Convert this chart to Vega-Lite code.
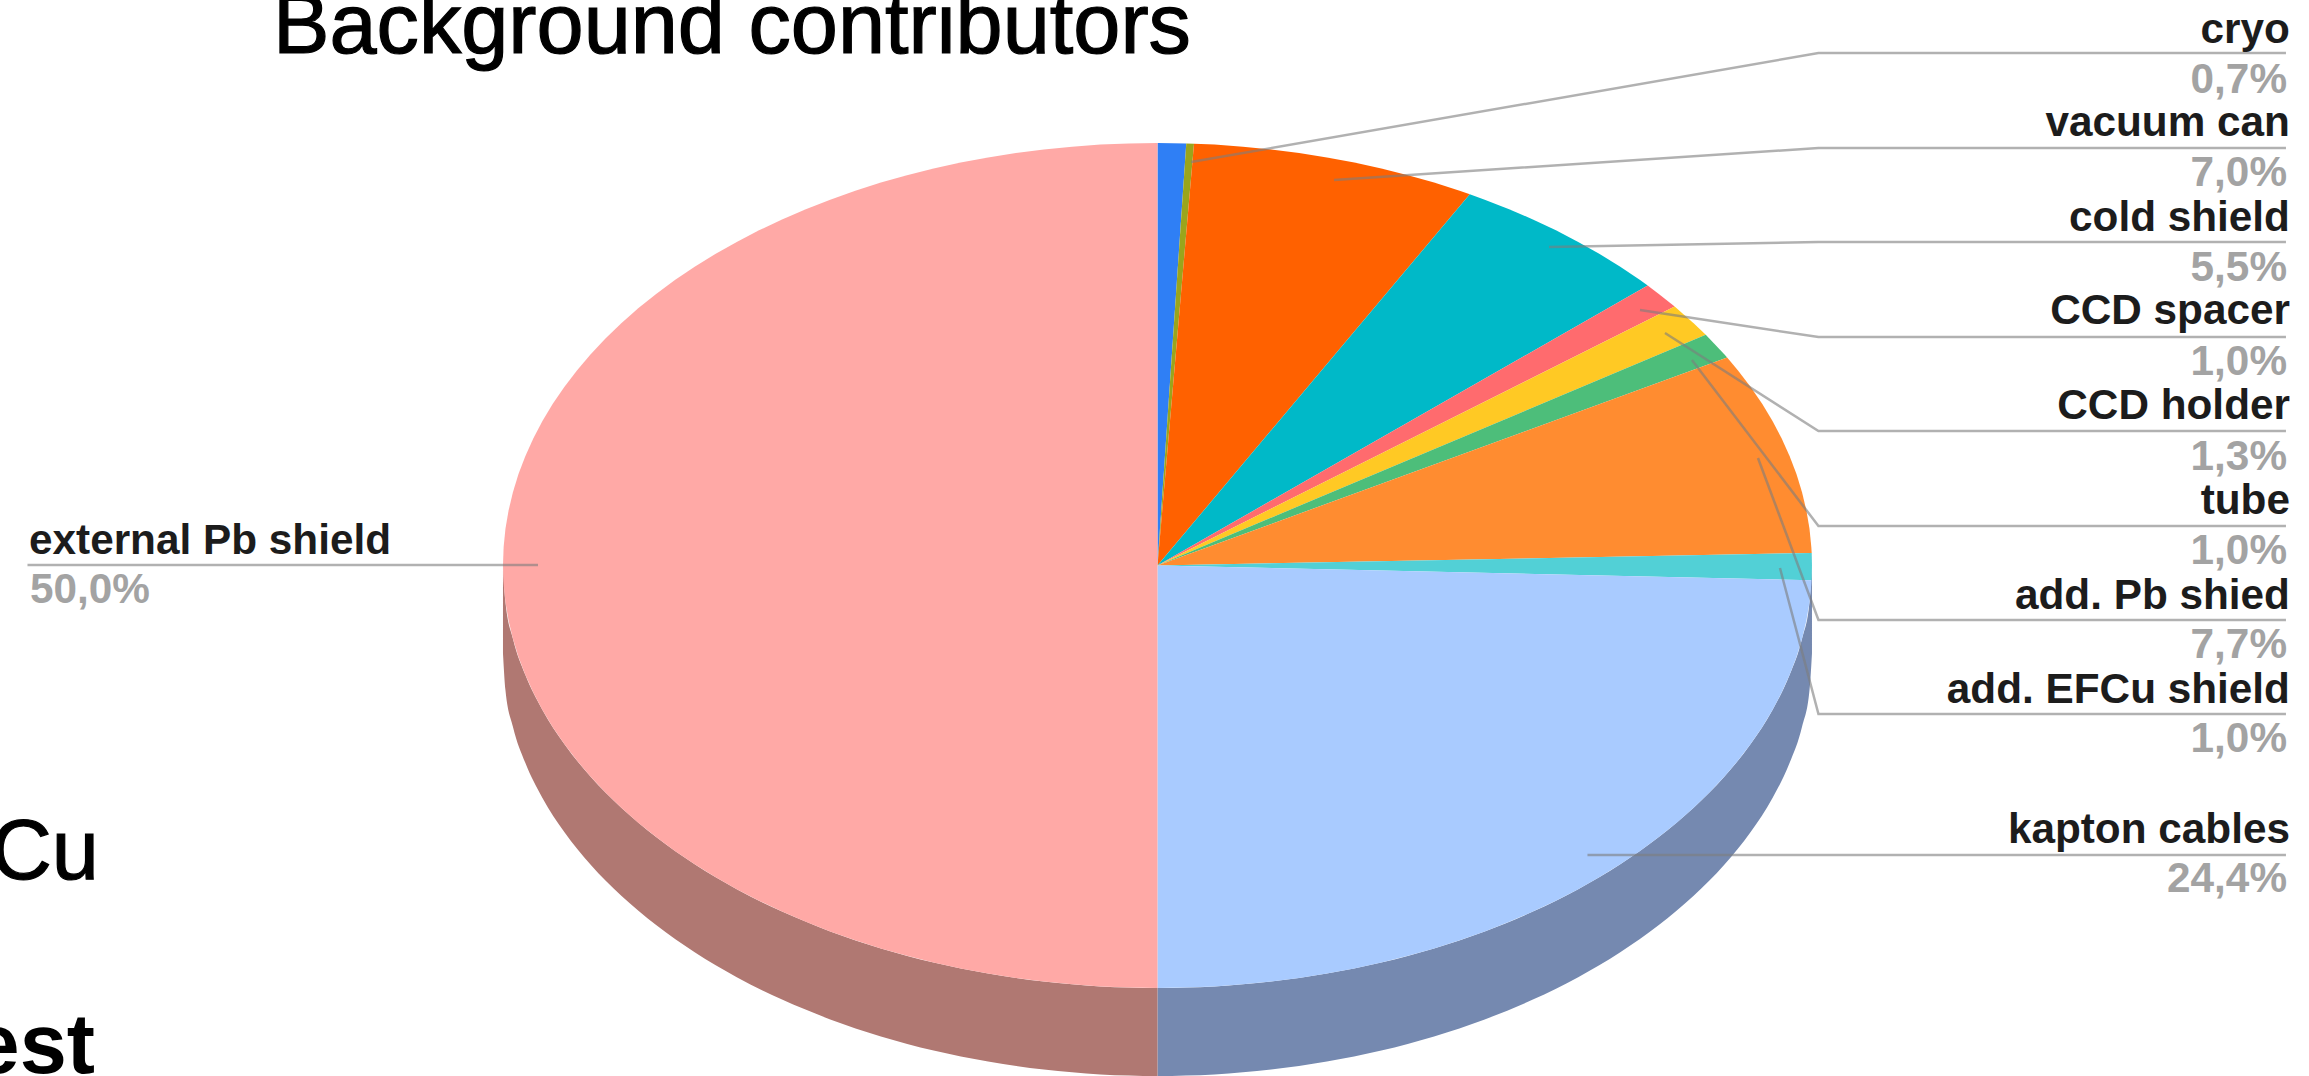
{
  "$schema": "https://vega.github.io/schema/vega-lite/v6.json",
  "width": 2309,
  "height": 1076,
  "padding": 0,
  "autosize": {"type": "none"},
  "background": "#ffffff",
  "view": {"stroke": null},
  "datasets": {
    "side": [
      {"part":"kapton cables side","x":1,"top":0,"bottom":-0.2083},
      {"part":"kapton cables side","x":0.9962,"top":-0.0872,"bottom":-0.2955},
      {"part":"kapton cables side","x":0.9848,"top":-0.1736,"bottom":-0.3819},
      {"part":"kapton cables side","x":0.9659,"top":-0.2588,"bottom":-0.4671},
      {"part":"kapton cables side","x":0.9397,"top":-0.342,"bottom":-0.5503},
      {"part":"kapton cables side","x":0.9063,"top":-0.4226,"bottom":-0.6309},
      {"part":"kapton cables side","x":0.866,"top":-0.5,"bottom":-0.7083},
      {"part":"kapton cables side","x":0.8192,"top":-0.5736,"bottom":-0.7819},
      {"part":"kapton cables side","x":0.766,"top":-0.6428,"bottom":-0.8511},
      {"part":"kapton cables side","x":0.7071,"top":-0.7071,"bottom":-0.9154},
      {"part":"kapton cables side","x":0.6428,"top":-0.766,"bottom":-0.9743},
      {"part":"kapton cables side","x":0.5736,"top":-0.8192,"bottom":-1.0275},
      {"part":"kapton cables side","x":0.5,"top":-0.866,"bottom":-1.0743},
      {"part":"kapton cables side","x":0.4226,"top":-0.9063,"bottom":-1.1146},
      {"part":"kapton cables side","x":0.342,"top":-0.9397,"bottom":-1.148},
      {"part":"kapton cables side","x":0.2588,"top":-0.9659,"bottom":-1.1742},
      {"part":"kapton cables side","x":0.1736,"top":-0.9848,"bottom":-1.1931},
      {"part":"kapton cables side","x":0.0872,"top":-0.9962,"bottom":-1.2045},
      {"part":"kapton cables side","x":0,"top":-1,"bottom":-1.2083},
      {"part":"external Pb shield side","x":0,"top":-1,"bottom":-1.2083},
      {"part":"external Pb shield side","x":-0.0872,"top":-0.9962,"bottom":-1.2045},
      {"part":"external Pb shield side","x":-0.1736,"top":-0.9848,"bottom":-1.1931},
      {"part":"external Pb shield side","x":-0.2588,"top":-0.9659,"bottom":-1.1742},
      {"part":"external Pb shield side","x":-0.342,"top":-0.9397,"bottom":-1.148},
      {"part":"external Pb shield side","x":-0.4226,"top":-0.9063,"bottom":-1.1146},
      {"part":"external Pb shield side","x":-0.5,"top":-0.866,"bottom":-1.0743},
      {"part":"external Pb shield side","x":-0.5736,"top":-0.8192,"bottom":-1.0275},
      {"part":"external Pb shield side","x":-0.6428,"top":-0.766,"bottom":-0.9743},
      {"part":"external Pb shield side","x":-0.7071,"top":-0.7071,"bottom":-0.9154},
      {"part":"external Pb shield side","x":-0.766,"top":-0.6428,"bottom":-0.8511},
      {"part":"external Pb shield side","x":-0.8192,"top":-0.5736,"bottom":-0.7819},
      {"part":"external Pb shield side","x":-0.866,"top":-0.5,"bottom":-0.7083},
      {"part":"external Pb shield side","x":-0.9063,"top":-0.4226,"bottom":-0.6309},
      {"part":"external Pb shield side","x":-0.9397,"top":-0.342,"bottom":-0.5503},
      {"part":"external Pb shield side","x":-0.9659,"top":-0.2588,"bottom":-0.4671},
      {"part":"external Pb shield side","x":-0.9848,"top":-0.1736,"bottom":-0.3819},
      {"part":"external Pb shield side","x":-0.9962,"top":-0.0872,"bottom":-0.2955},
      {"part":"external Pb shield side","x":-1,"top":0,"bottom":-0.2083}
    ],
    "wedges": [
      {"part":"cryo","deg":-1,"x":0,"y":0},
      {"part":"cryo","deg":0,"x":0,"y":1},
      {"part":"cryo","deg":2.52,"x":0.044,"y":0.999},
      {"part":"unlabelled","deg":-1,"x":0,"y":0},
      {"part":"unlabelled","deg":2.52,"x":0.044,"y":0.999},
      {"part":"unlabelled","deg":3.2,"x":0.0558,"y":0.9984},
      {"part":"vacuum can","deg":-1,"x":0,"y":0},
      {"part":"vacuum can","deg":3.2,"x":0.0558,"y":0.9984},
      {"part":"vacuum can","deg":5,"x":0.0872,"y":0.9962},
      {"part":"vacuum can","deg":7.5,"x":0.1305,"y":0.9914},
      {"part":"vacuum can","deg":10,"x":0.1736,"y":0.9848},
      {"part":"vacuum can","deg":12.5,"x":0.2164,"y":0.9763},
      {"part":"vacuum can","deg":15,"x":0.2588,"y":0.9659},
      {"part":"vacuum can","deg":17.5,"x":0.3007,"y":0.9537},
      {"part":"vacuum can","deg":20,"x":0.342,"y":0.9397},
      {"part":"vacuum can","deg":22.5,"x":0.3827,"y":0.9239},
      {"part":"vacuum can","deg":25,"x":0.4226,"y":0.9063},
      {"part":"vacuum can","deg":27.5,"x":0.4617,"y":0.887},
      {"part":"vacuum can","deg":28.5,"x":0.4772,"y":0.8788},
      {"part":"cold shield","deg":-1,"x":0,"y":0},
      {"part":"cold shield","deg":28.5,"x":0.4772,"y":0.8788},
      {"part":"cold shield","deg":30,"x":0.5,"y":0.866},
      {"part":"cold shield","deg":32.5,"x":0.5373,"y":0.8434},
      {"part":"cold shield","deg":35,"x":0.5736,"y":0.8192},
      {"part":"cold shield","deg":37.5,"x":0.6088,"y":0.7934},
      {"part":"cold shield","deg":40,"x":0.6428,"y":0.766},
      {"part":"cold shield","deg":42.5,"x":0.6756,"y":0.7373},
      {"part":"cold shield","deg":45,"x":0.7071,"y":0.7071},
      {"part":"cold shield","deg":47.5,"x":0.7373,"y":0.6756},
      {"part":"cold shield","deg":48.5,"x":0.749,"y":0.6626},
      {"part":"CCD spacer","deg":-1,"x":0,"y":0},
      {"part":"CCD spacer","deg":48.5,"x":0.749,"y":0.6626},
      {"part":"CCD spacer","deg":50,"x":0.766,"y":0.6428},
      {"part":"CCD spacer","deg":52.2,"x":0.7902,"y":0.6129},
      {"part":"CCD holder","deg":-1,"x":0,"y":0},
      {"part":"CCD holder","deg":52.2,"x":0.7902,"y":0.6129},
      {"part":"CCD holder","deg":55,"x":0.8192,"y":0.5736},
      {"part":"CCD holder","deg":56.9,"x":0.8377,"y":0.5461},
      {"part":"tube","deg":-1,"x":0,"y":0},
      {"part":"tube","deg":56.9,"x":0.8377,"y":0.5461},
      {"part":"tube","deg":60,"x":0.866,"y":0.5},
      {"part":"tube","deg":60.5,"x":0.8704,"y":0.4924},
      {"part":"add. Pb shied","deg":-1,"x":0,"y":0},
      {"part":"add. Pb shied","deg":60.5,"x":0.8704,"y":0.4924},
      {"part":"add. Pb shied","deg":62.5,"x":0.887,"y":0.4617},
      {"part":"add. Pb shied","deg":65,"x":0.9063,"y":0.4226},
      {"part":"add. Pb shied","deg":67.5,"x":0.9239,"y":0.3827},
      {"part":"add. Pb shied","deg":70,"x":0.9397,"y":0.342},
      {"part":"add. Pb shied","deg":72.5,"x":0.9537,"y":0.3007},
      {"part":"add. Pb shied","deg":75,"x":0.9659,"y":0.2588},
      {"part":"add. Pb shied","deg":77.5,"x":0.9763,"y":0.2164},
      {"part":"add. Pb shied","deg":80,"x":0.9848,"y":0.1736},
      {"part":"add. Pb shied","deg":82.5,"x":0.9914,"y":0.1305},
      {"part":"add. Pb shied","deg":85,"x":0.9962,"y":0.0872},
      {"part":"add. Pb shied","deg":87.5,"x":0.999,"y":0.0436},
      {"part":"add. Pb shied","deg":88.3,"x":0.9996,"y":0.0297},
      {"part":"add. EFCu shield","deg":-1,"x":0,"y":0},
      {"part":"add. EFCu shield","deg":88.3,"x":0.9996,"y":0.0297},
      {"part":"add. EFCu shield","deg":90,"x":1,"y":0},
      {"part":"add. EFCu shield","deg":92,"x":0.9994,"y":-0.0349},
      {"part":"kapton cables","deg":-1,"x":0,"y":0},
      {"part":"kapton cables","deg":92,"x":0.9994,"y":-0.0349},
      {"part":"kapton cables","deg":92.5,"x":0.999,"y":-0.0436},
      {"part":"kapton cables","deg":95,"x":0.9962,"y":-0.0872},
      {"part":"kapton cables","deg":97.5,"x":0.9914,"y":-0.1305},
      {"part":"kapton cables","deg":100,"x":0.9848,"y":-0.1736},
      {"part":"kapton cables","deg":102.5,"x":0.9763,"y":-0.2164},
      {"part":"kapton cables","deg":105,"x":0.9659,"y":-0.2588},
      {"part":"kapton cables","deg":107.5,"x":0.9537,"y":-0.3007},
      {"part":"kapton cables","deg":110,"x":0.9397,"y":-0.342},
      {"part":"kapton cables","deg":112.5,"x":0.9239,"y":-0.3827},
      {"part":"kapton cables","deg":115,"x":0.9063,"y":-0.4226},
      {"part":"kapton cables","deg":117.5,"x":0.887,"y":-0.4617},
      {"part":"kapton cables","deg":120,"x":0.866,"y":-0.5},
      {"part":"kapton cables","deg":122.5,"x":0.8434,"y":-0.5373},
      {"part":"kapton cables","deg":125,"x":0.8192,"y":-0.5736},
      {"part":"kapton cables","deg":127.5,"x":0.7934,"y":-0.6088},
      {"part":"kapton cables","deg":130,"x":0.766,"y":-0.6428},
      {"part":"kapton cables","deg":132.5,"x":0.7373,"y":-0.6756},
      {"part":"kapton cables","deg":135,"x":0.7071,"y":-0.7071},
      {"part":"kapton cables","deg":137.5,"x":0.6756,"y":-0.7373},
      {"part":"kapton cables","deg":140,"x":0.6428,"y":-0.766},
      {"part":"kapton cables","deg":142.5,"x":0.6088,"y":-0.7934},
      {"part":"kapton cables","deg":145,"x":0.5736,"y":-0.8192},
      {"part":"kapton cables","deg":147.5,"x":0.5373,"y":-0.8434},
      {"part":"kapton cables","deg":150,"x":0.5,"y":-0.866},
      {"part":"kapton cables","deg":152.5,"x":0.4617,"y":-0.887},
      {"part":"kapton cables","deg":155,"x":0.4226,"y":-0.9063},
      {"part":"kapton cables","deg":157.5,"x":0.3827,"y":-0.9239},
      {"part":"kapton cables","deg":160,"x":0.342,"y":-0.9397},
      {"part":"kapton cables","deg":162.5,"x":0.3007,"y":-0.9537},
      {"part":"kapton cables","deg":165,"x":0.2588,"y":-0.9659},
      {"part":"kapton cables","deg":167.5,"x":0.2164,"y":-0.9763},
      {"part":"kapton cables","deg":170,"x":0.1736,"y":-0.9848},
      {"part":"kapton cables","deg":172.5,"x":0.1305,"y":-0.9914},
      {"part":"kapton cables","deg":175,"x":0.0872,"y":-0.9962},
      {"part":"kapton cables","deg":177.5,"x":0.0436,"y":-0.999},
      {"part":"kapton cables","deg":180,"x":0,"y":-1},
      {"part":"external Pb shield","deg":-1,"x":0,"y":0},
      {"part":"external Pb shield","deg":180,"x":0,"y":-1},
      {"part":"external Pb shield","deg":182.5,"x":-0.0436,"y":-0.999},
      {"part":"external Pb shield","deg":185,"x":-0.0872,"y":-0.9962},
      {"part":"external Pb shield","deg":187.5,"x":-0.1305,"y":-0.9914},
      {"part":"external Pb shield","deg":190,"x":-0.1736,"y":-0.9848},
      {"part":"external Pb shield","deg":192.5,"x":-0.2164,"y":-0.9763},
      {"part":"external Pb shield","deg":195,"x":-0.2588,"y":-0.9659},
      {"part":"external Pb shield","deg":197.5,"x":-0.3007,"y":-0.9537},
      {"part":"external Pb shield","deg":200,"x":-0.342,"y":-0.9397},
      {"part":"external Pb shield","deg":202.5,"x":-0.3827,"y":-0.9239},
      {"part":"external Pb shield","deg":205,"x":-0.4226,"y":-0.9063},
      {"part":"external Pb shield","deg":207.5,"x":-0.4617,"y":-0.887},
      {"part":"external Pb shield","deg":210,"x":-0.5,"y":-0.866},
      {"part":"external Pb shield","deg":212.5,"x":-0.5373,"y":-0.8434},
      {"part":"external Pb shield","deg":215,"x":-0.5736,"y":-0.8192},
      {"part":"external Pb shield","deg":217.5,"x":-0.6088,"y":-0.7934},
      {"part":"external Pb shield","deg":220,"x":-0.6428,"y":-0.766},
      {"part":"external Pb shield","deg":222.5,"x":-0.6756,"y":-0.7373},
      {"part":"external Pb shield","deg":225,"x":-0.7071,"y":-0.7071},
      {"part":"external Pb shield","deg":227.5,"x":-0.7373,"y":-0.6756},
      {"part":"external Pb shield","deg":230,"x":-0.766,"y":-0.6428},
      {"part":"external Pb shield","deg":232.5,"x":-0.7934,"y":-0.6088},
      {"part":"external Pb shield","deg":235,"x":-0.8192,"y":-0.5736},
      {"part":"external Pb shield","deg":237.5,"x":-0.8434,"y":-0.5373},
      {"part":"external Pb shield","deg":240,"x":-0.866,"y":-0.5},
      {"part":"external Pb shield","deg":242.5,"x":-0.887,"y":-0.4617},
      {"part":"external Pb shield","deg":245,"x":-0.9063,"y":-0.4226},
      {"part":"external Pb shield","deg":247.5,"x":-0.9239,"y":-0.3827},
      {"part":"external Pb shield","deg":250,"x":-0.9397,"y":-0.342},
      {"part":"external Pb shield","deg":252.5,"x":-0.9537,"y":-0.3007},
      {"part":"external Pb shield","deg":255,"x":-0.9659,"y":-0.2588},
      {"part":"external Pb shield","deg":257.5,"x":-0.9763,"y":-0.2164},
      {"part":"external Pb shield","deg":260,"x":-0.9848,"y":-0.1736},
      {"part":"external Pb shield","deg":262.5,"x":-0.9914,"y":-0.1305},
      {"part":"external Pb shield","deg":265,"x":-0.9962,"y":-0.0872},
      {"part":"external Pb shield","deg":267.5,"x":-0.999,"y":-0.0436},
      {"part":"external Pb shield","deg":270,"x":-1,"y":0},
      {"part":"external Pb shield","deg":272.5,"x":-0.999,"y":0.0436},
      {"part":"external Pb shield","deg":275,"x":-0.9962,"y":0.0872},
      {"part":"external Pb shield","deg":277.5,"x":-0.9914,"y":0.1305},
      {"part":"external Pb shield","deg":280,"x":-0.9848,"y":0.1736},
      {"part":"external Pb shield","deg":282.5,"x":-0.9763,"y":0.2164},
      {"part":"external Pb shield","deg":285,"x":-0.9659,"y":0.2588},
      {"part":"external Pb shield","deg":287.5,"x":-0.9537,"y":0.3007},
      {"part":"external Pb shield","deg":290,"x":-0.9397,"y":0.342},
      {"part":"external Pb shield","deg":292.5,"x":-0.9239,"y":0.3827},
      {"part":"external Pb shield","deg":295,"x":-0.9063,"y":0.4226},
      {"part":"external Pb shield","deg":297.5,"x":-0.887,"y":0.4617},
      {"part":"external Pb shield","deg":300,"x":-0.866,"y":0.5},
      {"part":"external Pb shield","deg":302.5,"x":-0.8434,"y":0.5373},
      {"part":"external Pb shield","deg":305,"x":-0.8192,"y":0.5736},
      {"part":"external Pb shield","deg":307.5,"x":-0.7934,"y":0.6088},
      {"part":"external Pb shield","deg":310,"x":-0.766,"y":0.6428},
      {"part":"external Pb shield","deg":312.5,"x":-0.7373,"y":0.6756},
      {"part":"external Pb shield","deg":315,"x":-0.7071,"y":0.7071},
      {"part":"external Pb shield","deg":317.5,"x":-0.6756,"y":0.7373},
      {"part":"external Pb shield","deg":320,"x":-0.6428,"y":0.766},
      {"part":"external Pb shield","deg":322.5,"x":-0.6088,"y":0.7934},
      {"part":"external Pb shield","deg":325,"x":-0.5736,"y":0.8192},
      {"part":"external Pb shield","deg":327.5,"x":-0.5373,"y":0.8434},
      {"part":"external Pb shield","deg":330,"x":-0.5,"y":0.866},
      {"part":"external Pb shield","deg":332.5,"x":-0.4617,"y":0.887},
      {"part":"external Pb shield","deg":335,"x":-0.4226,"y":0.9063},
      {"part":"external Pb shield","deg":337.5,"x":-0.3827,"y":0.9239},
      {"part":"external Pb shield","deg":340,"x":-0.342,"y":0.9397},
      {"part":"external Pb shield","deg":342.5,"x":-0.3007,"y":0.9537},
      {"part":"external Pb shield","deg":345,"x":-0.2588,"y":0.9659},
      {"part":"external Pb shield","deg":347.5,"x":-0.2164,"y":0.9763},
      {"part":"external Pb shield","deg":350,"x":-0.1736,"y":0.9848},
      {"part":"external Pb shield","deg":352.5,"x":-0.1305,"y":0.9914},
      {"part":"external Pb shield","deg":355,"x":-0.0872,"y":0.9962},
      {"part":"external Pb shield","deg":357.5,"x":-0.0436,"y":0.999},
      {"part":"external Pb shield","deg":360,"x":0,"y":1}
    ],
    "leaders": [
      {"part":"cryo","i":0,"x":0.0512,"y":0.955},
      {"part":"cryo","i":1,"x":1.0099,"y":1.213},
      {"part":"cryo","i":2,"x":1.7242,"y":1.213},
      {"part":"vacuum can","i":0,"x":0.2697,"y":0.9124},
      {"part":"vacuum can","i":1,"x":1.0099,"y":0.9882},
      {"part":"vacuum can","i":2,"x":1.7242,"y":0.9882},
      {"part":"cold shield","i":0,"x":0.5982,"y":0.7538},
      {"part":"cold shield","i":1,"x":1.0099,"y":0.7657},
      {"part":"cold shield","i":2,"x":1.7242,"y":0.7657},
      {"part":"CCD spacer","i":0,"x":0.7372,"y":0.6047},
      {"part":"CCD spacer","i":1,"x":1.0099,"y":0.5408},
      {"part":"CCD spacer","i":2,"x":1.7242,"y":0.5408},
      {"part":"CCD holder","i":0,"x":0.7754,"y":0.5503},
      {"part":"CCD holder","i":1,"x":1.0099,"y":0.3183},
      {"part":"CCD holder","i":2,"x":1.7242,"y":0.3183},
      {"part":"tube","i":0,"x":0.8166,"y":0.4864},
      {"part":"tube","i":1,"x":1.0099,"y":0.0935},
      {"part":"tube","i":2,"x":1.7242,"y":0.0935},
      {"part":"add. Pb shied","i":0,"x":0.9175,"y":0.2544},
      {"part":"add. Pb shied","i":1,"x":1.0099,"y":-0.129},
      {"part":"add. Pb shied","i":2,"x":1.7242,"y":-0.129},
      {"part":"add. EFCu shield","i":0,"x":0.9511,"y":-0.0059},
      {"part":"add. EFCu shield","i":1,"x":1.0099,"y":-0.3515},
      {"part":"add. EFCu shield","i":2,"x":1.7242,"y":-0.3515},
      {"part":"kapton cables","i":0,"x":0.657,"y":-0.6852},
      {"part":"kapton cables","i":1,"x":1.7242,"y":-0.6852},
      {"part":"external Pb shield","i":0,"x":-1.7265,"y":0.0012},
      {"part":"external Pb shield","i":1,"x":-0.9465,"y":0.0012}
    ],
    "labels": [
      {"name":"cryo","share":"0,7%","nameY":1.2367,"shareY":1.1183},
      {"name":"vacuum can","share":"7,0%","nameY":1.0166,"shareY":0.8982},
      {"name":"cold shield","share":"5,5%","nameY":0.7917,"shareY":0.6734},
      {"name":"CCD spacer","share":"1,0%","nameY":0.5716,"shareY":0.4509},
      {"name":"CCD holder","share":"1,3%","nameY":0.3467,"shareY":0.226},
      {"name":"tube","share":"1,0%","nameY":0.1219,"shareY":0.0036},
      {"name":"add. Pb shied","share":"7,7%","nameY":-0.103,"shareY":-0.2189},
      {"name":"add. EFCu shield","share":"1,0%","nameY":-0.3254,"shareY":-0.4414},
      {"name":"kapton cables","share":"24,4%","nameY":-0.6568,"shareY":-0.7728}
    ]
  },
  "encoding": {
    "x": {"type":"quantitative","scale":{"domain":[-1.7685,1.7594],"nice":false,"zero":false},"axis":null},
    "y": {"type":"quantitative","scale":{"domain":[-1.2083,1.3385],"nice":false,"zero":false},"axis":null}
  },
  "layer": [
    {
      "data": {"name":"side"},
      "mark": {"type":"area","interpolate":"monotone"},
      "encoding": {
        "x": {"field":"x"},
        "y": {"field":"top"},
        "y2": {"field":"bottom"},
        "color": {"field":"part","type":"nominal","legend":null,
          "scale":{
            "domain":["cryo","unlabelled","vacuum can","cold shield","CCD spacer","CCD holder","tube","add. Pb shied","add. EFCu shield","kapton cables","external Pb shield","kapton cables side","external Pb shield side"],
            "range":["#2F7FF5","#9AA51C","#FF6100","#00B9C8","#FF6B6E","#FFC924","#4DBE7A","#FF8C30","#52D0D6","#A9CBFF","#FFA9A6","#7589B0","#B07872"]
          }
        }
      }
    },
    {
      "data": {"name":"wedges"},
      "mark": {"type":"line","filled":true,"interpolate":"linear"},
      "encoding": {
        "x": {"field":"x"},
        "y": {"field":"y"},
        "order": {"field":"deg","type":"quantitative"},
        "color": {"field":"part","type":"nominal","legend":null}
      }
    },
    {
      "data": {"name":"leaders"},
      "mark": {"type":"line","stroke":"#7d7d7d","strokeWidth":2.5,"opacity":0.6,"interpolate":"linear"},
      "encoding": {
        "x": {"field":"x"},
        "y": {"field":"y"},
        "order": {"field":"i","type":"quantitative"},
        "detail": {"field":"part"}
      }
    },
    {
      "data": {"name":"labels"},
      "mark": {"type":"text","align":"right","baseline":"alphabetic","font":"Liberation Sans","fontWeight":"bold","fontSize":42.3,"color":"#1c1c1c"},
      "encoding": {
        "x": {"datum":1.7303},
        "y": {"field":"nameY"},
        "text": {"field":"name"}
      }
    },
    {
      "data": {"name":"labels"},
      "mark": {"type":"text","align":"right","baseline":"alphabetic","font":"Liberation Sans","fontWeight":"bold","fontSize":42.3,"color":"#a3a3a3"},
      "encoding": {
        "x": {"datum":1.7258},
        "y": {"field":"shareY"},
        "text": {"field":"share"}
      }
    },
    {
      "data": {"values":[{"name":"external Pb shield","x":-1.7242,"y":0.0272}]},
      "mark": {"type":"text","align":"left","baseline":"alphabetic","font":"Liberation Sans","fontWeight":"bold","fontSize":42.3,"color":"#1c1c1c"},
      "encoding": {
        "x": {"field":"x"},
        "y": {"field":"y"},
        "text": {"field":"name"}
      }
    },
    {
      "data": {"values":[{"share":"50,0%","x":-1.7227,"y":-0.0888}]},
      "mark": {"type":"text","align":"left","baseline":"alphabetic","font":"Liberation Sans","fontWeight":"bold","fontSize":42.3,"color":"#a3a3a3"},
      "encoding": {
        "x": {"field":"x"},
        "y": {"field":"y"},
        "text": {"field":"share"}
      }
    },
    {
      "data": {"values":[{"text":"Background contributors","x":-1.3514,"y":1.213}]},
      "mark": {"type":"text","align":"left","baseline":"alphabetic","font":"Liberation Sans","fontSize":84.7,"color":"#000000","stroke":"#000000","strokeWidth":1.2},
      "encoding": {
        "x": {"field":"x"},
        "y": {"field":"y"},
        "text": {"field":"text"}
      }
    },
    {
      "data": {"values":[{"text":"Cu","x":-1.6173,"y":-0.742}]},
      "mark": {"type":"text","align":"right","baseline":"alphabetic","font":"Liberation Sans","fontSize":84.7,"color":"#000000","stroke":"#000000","strokeWidth":1.2},
      "encoding": {
        "x": {"field":"x"},
        "y": {"field":"y"},
        "text": {"field":"text"}
      }
    },
    {
      "data": {"values":[{"text":"est","x":-1.6234,"y":-1.2012}]},
      "mark": {"type":"text","align":"right","baseline":"alphabetic","font":"Liberation Sans","fontWeight":"bold","fontSize":84.7,"color":"#000000"},
      "encoding": {
        "x": {"field":"x"},
        "y": {"field":"y"},
        "text": {"field":"text"}
      }
    }
  ]
}
